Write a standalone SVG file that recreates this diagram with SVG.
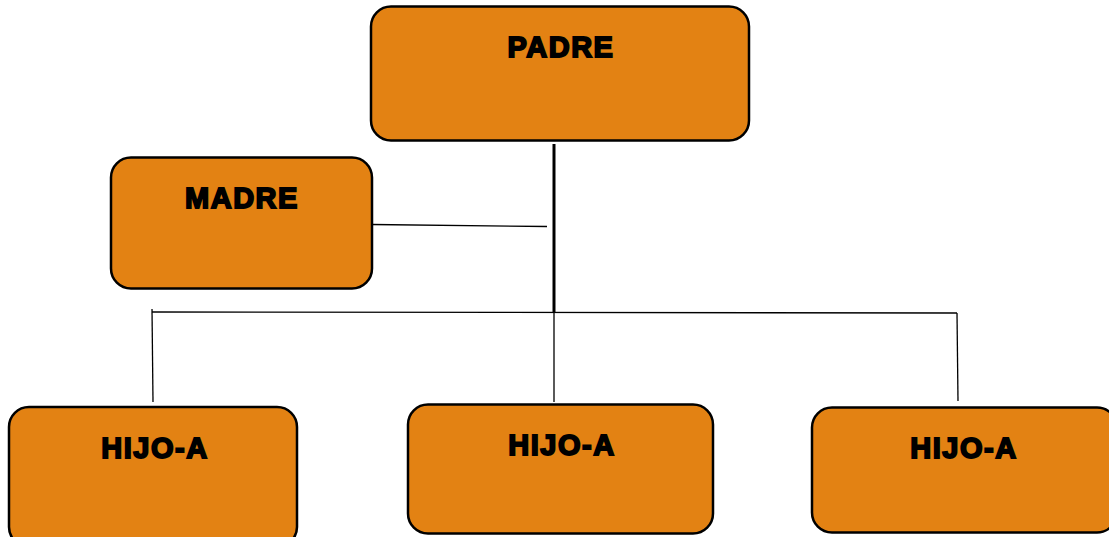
<svg xmlns="http://www.w3.org/2000/svg" width="1109" height="537" viewBox="0 0 1109 537">
<style>
.box{fill:#E38213;stroke:#000;stroke-width:2.5}
.lbl{font-family:"Liberation Sans",Arial,sans-serif;font-weight:bold;font-size:29px;fill:#000;stroke:#000;stroke-width:1.8;text-anchor:middle;letter-spacing:1.5px}
.ln{stroke:#000;stroke-width:1.3;fill:none}
</style>
<rect width="1109" height="537" fill="#fff"/>
<g id="connectors">
<line class="ln" x1="554" y1="144" x2="554" y2="312" style="stroke-width:3"/>
<line class="ln" x1="372" y1="224.5" x2="547" y2="226.5"/>
<line class="ln" x1="152" y1="312" x2="957" y2="313"/>
<line class="ln" x1="152" y1="309" x2="153" y2="402"/>
<line class="ln" x1="554" y1="312" x2="554" y2="402"/>
<line class="ln" x1="957" y1="313" x2="958" y2="401"/>
</g>
<g id="padre"><rect class="box" x="371" y="6.5" width="378" height="134" rx="20"/><text class="lbl" x="561" y="57">PADRE</text></g>
<g id="madre"><rect class="box" x="111" y="157.5" width="261" height="131" rx="20"/><text class="lbl" x="242" y="208">MADRE</text></g>
<g id="hijo1"><rect class="box" x="9" y="407" width="288" height="140" rx="20"/><text class="lbl" x="155" y="458">HIJO-A</text></g>
<g id="hijo2"><rect class="box" x="408" y="404.5" width="305" height="129" rx="20"/><text class="lbl" x="562" y="455">HIJO-A</text></g>
<g id="hijo3"><rect class="box" x="812" y="407.5" width="305" height="125" rx="20"/><text class="lbl" x="964" y="458">HIJO-A</text></g>
</svg>
